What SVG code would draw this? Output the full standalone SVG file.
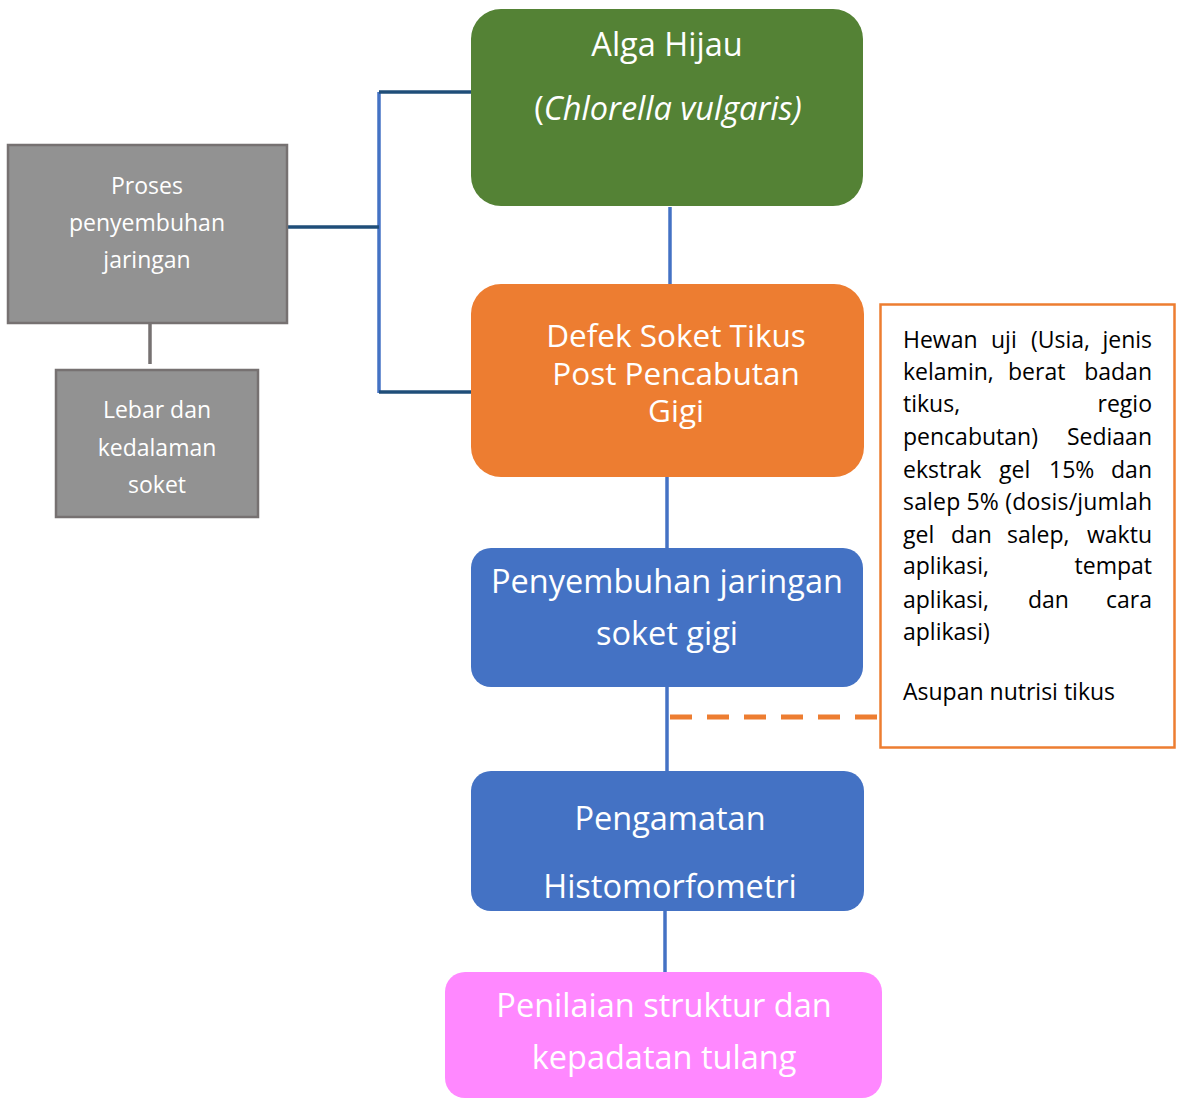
<svg xmlns="http://www.w3.org/2000/svg" width="1181" height="1099" viewBox="0 0 1181 1099">
<style>
text{font-family:"Open Sans",Lato,"Liberation Sans",sans-serif}
.w{fill:#fff;text-anchor:middle}
.big{font-size:32.5px}
.mid{font-size:31.5px}
.g{font-size:23px}
.r{font-size:23px;fill:#000}
.e{text-anchor:end}
.gray{fill:#929292;stroke:#767171;stroke-width:2.5}
.blue{stroke:#4472C4;stroke-width:3.5;fill:none}
.dark{stroke:#1F4E79;stroke-width:3.5;fill:none}
</style>
<rect width="1181" height="1099" fill="#fff"/>
<g id="connectors">
<line class="blue" x1="379" y1="92" x2="379" y2="393"/>
<line class="dark" x1="379" y1="92" x2="471" y2="92"/>
<line class="dark" x1="379" y1="392" x2="471" y2="392"/>
<line class="dark" x1="287" y1="227" x2="379" y2="227"/>
<line class="blue" x1="670" y1="207" x2="670" y2="285"/>
<line class="blue" x1="667" y1="476" x2="667" y2="549"/>
<line class="blue" x1="667" y1="686" x2="667" y2="772"/>
<line class="blue" x1="665" y1="910" x2="665" y2="972"/>
<line x1="150" y1="318" x2="150" y2="364" stroke="#767171" stroke-width="3.5"/>
<line x1="670" y1="717" x2="880" y2="717" stroke="#ED7D31" stroke-width="5" stroke-dasharray="22 15"/>
</g>
<g id="alga">
<rect x="471" y="9" width="392" height="197" rx="30" fill="#548235"/>
<text class="w big" x="667" y="56">Alga Hijau</text>
<text class="w big" x="668" y="120" font-size="34px">(<tspan font-style="italic">Chlorella vulgaris)</tspan></text>
</g>
<g id="defek">
<rect x="471" y="284" width="393" height="193" rx="30" fill="#ED7D31"/>
<text class="w mid" x="676" y="347">Defek Soket Tikus</text>
<text class="w mid" x="676" y="385">Post Pencabutan</text>
<text class="w mid" x="676" y="422">Gigi</text>
</g>
<g id="penyembuhan">
<rect x="471" y="548" width="392" height="139" rx="20" fill="#4472C4"/>
<text class="w big" x="667" y="593">Penyembuhan jaringan</text>
<text class="w big" x="667" y="645">soket gigi</text>
</g>
<g id="pengamatan">
<rect x="471" y="771" width="393" height="140" rx="20" fill="#4472C4"/>
<text class="w big" x="670" y="830">Pengamatan</text>
<text class="w big" x="670" y="898">Histomorfometri</text>
</g>
<g id="penilaian">
<rect x="445" y="972" width="437" height="126" rx="20" fill="#FF88FF"/>
<text class="w big" x="664" y="1017">Penilaian struktur dan</text>
<text class="w big" x="664" y="1069">kepadatan tulang</text>
</g>
<g id="proses">
<rect class="gray" x="8" y="145" width="279" height="178"/>
<text class="w g" x="147" y="194">Proses</text>
<text class="w g" x="147" y="231">penyembuhan</text>
<text class="w g" x="147" y="268">jaringan</text>
</g>
<g id="lebar">
<rect class="gray" x="56" y="370" width="202" height="147"/>
<text class="w g" x="157" y="418">Lebar dan</text>
<text class="w g" x="157" y="456">kedalaman</text>
<text class="w g" x="157" y="493">soket</text>
</g>
<g id="variabel">
<rect x="880.5" y="304.5" width="294" height="443" fill="#fff" stroke="#ED7D31" stroke-width="2.5"/>
<text class="r" y="348"><tspan x="903">Hewan</tspan><tspan x="991">uji</tspan><tspan x="1031">(Usia,</tspan></text>
<text class="r e" x="1152" y="348">jenis</text>
<text class="r" y="380"><tspan x="903">kelamin,</tspan><tspan x="1008">berat</tspan></text>
<text class="r e" x="1152" y="380">badan</text>
<text class="r" x="903" y="412">tikus,</text>
<text class="r e" x="1152" y="412">regio</text>
<text class="r" x="903" y="445">pencabutan)</text>
<text class="r e" x="1152" y="445">Sediaan</text>
<text class="r" y="478"><tspan x="903">ekstrak</tspan><tspan x="999">gel</tspan><tspan x="1049">15%</tspan></text>
<text class="r e" x="1152" y="478">dan</text>
<text class="r" x="903" y="510" textLength="249" lengthAdjust="spacing">salep 5% (dosis/jumlah</text>
<text class="r" y="543"><tspan x="903">gel</tspan><tspan x="951">dan</tspan><tspan x="1007">salep,</tspan></text>
<text class="r e" x="1152" y="543">waktu</text>
<text class="r" x="903" y="574">aplikasi,</text>
<text class="r e" x="1152" y="574">tempat</text>
<text class="r" y="608"><tspan x="903">aplikasi,</tspan><tspan x="1028">dan</tspan></text>
<text class="r e" x="1152" y="608">cara</text>
<text class="r" x="903" y="640">aplikasi)</text>
<text class="r" x="903" y="700">Asupan nutrisi tikus</text>
</g>
</svg>
